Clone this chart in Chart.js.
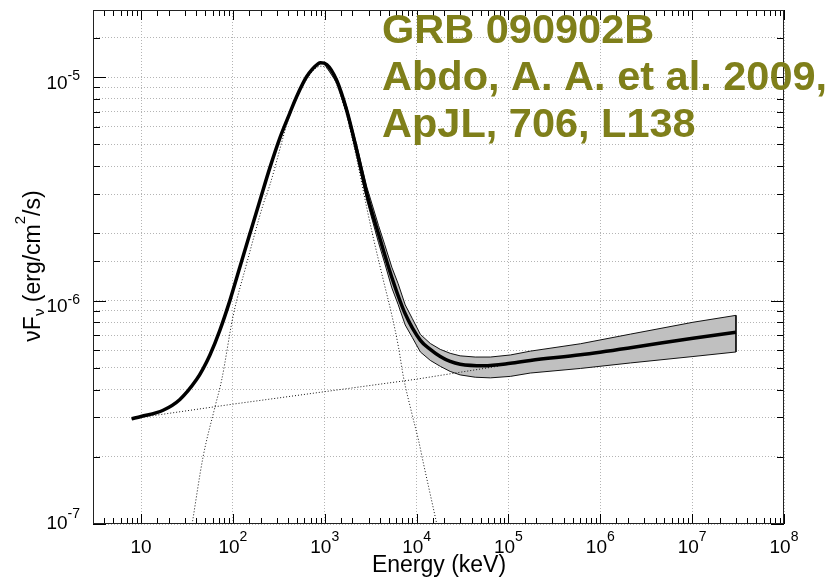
<!DOCTYPE html>
<html>
<head>
<meta charset="utf-8">
<script src="https://cdn.jsdelivr.net/npm/chart.js@4"></script>
<style>
html, body { margin: 0; padding: 0; background: #fff; }
#wrap { width: 838px; height: 578px; }
</style>
</head>
<body>
<div id="wrap"><canvas id="myChart" width="838" height="578"></canvas></div>
<script>
// energy in keV, flux in erg/cm2/s
const totalE = [7.9, 10, 17.4, 26.5, 40.2, 47.3, 56.1, 72.1, 92.7, 119, 153, 197, 253, 326, 419, 495, 637, 851, 900, 1052,
    1352, 1738, 2234, 2871, 3850, 5380, 7520, 1.1e4, 1.41e4, 1.81e4, 2.32e4, 2.98e4, 5.37e4, 1.05e5, 1.73e5, 6.08e5, 2.13e6, 1.02e7, 3.0e7];
const totalF = [2.96e-7, 3.03e-7, 3.23e-7, 3.61e-7, 4.43e-7, 4.95e-7, 5.69e-7, 7.36e-7, 1.0e-6, 1.41e-6, 1.99e-6, 2.81e-6, 3.94e-6, 5.37e-6, 6.95e-6, 8.2e-6, 1.007e-5, 1.15e-5, 1.16e-5, 1.14e-5,
    9.67e-6, 7.1e-6, 4.7e-6, 3.01e-6, 1.99e-6, 1.27e-6, 8.73e-7, 6.64e-7, 6.05e-7, 5.62e-7, 5.34e-7, 5.19e-7, 5.11e-7, 5.24e-7, 5.4e-7, 5.72e-7, 6.15e-7, 6.79e-7, 7.22e-7];

// confidence band
const bandE = [1000, 1352, 1738, 2234, 2871, 3850, 4500, 5380, 6300, 7520, 9000, 1.1e4, 1.41e4, 1.81e4, 2.32e4, 2.98e4, 4.35e4, 6.35e4, 1.05e5, 1.73e5, 6.08e5, 2.13e6, 1.02e7, 3.0e7];
const bandHi = [1.16e-5, 9.9e-6, 7.37e-6, 4.94e-6, 3.23e-6, 2.17e-6, 1.78e-6, 1.41e-6, 1.19e-6, 9.57e-7, 8.3e-7, 7.06e-7, 6.43e-7, 6.05e-7, 5.81e-7, 5.66e-7, 5.59e-7, 5.59e-7, 5.71e-7, 5.94e-7, 6.41e-7, 7.08e-7, 8.0e-7, 8.59e-7];
const bandLo = [1.14e-5, 9.45e-6, 6.84e-6, 4.47e-6, 2.81e-6, 1.82e-6, 1.47e-6, 1.14e-6, 9.6e-7, 7.78e-7, 6.83e-7, 5.89e-7, 5.4e-7, 5.08e-7, 4.82e-7, 4.65e-7, 4.54e-7, 4.51e-7, 4.58e-7, 4.74e-7, 4.97e-7, 5.26e-7, 5.62e-7, 5.89e-7];

// Band component (dotted)
const bandCompE = [36, 47.4, 63.7, 75.4, 101, 141, 214, 253, 419, 637, 900, 1052, 1352, 1738, 2234, 2871, 3390, 4355, 5380, 6353, 7194, 8890, 1.05e4, 1.19e4, 1.35e4, 1.66e4];
const bandCompF = [1.0e-7, 2.0e-7, 3.33e-7, 4.4e-7, 8.6e-7, 1.46e-6, 2.7e-6, 3.3e-6, 6.8e-6, 9.8e-6, 1.12e-5, 1.1e-5, 9.25e-6, 6.7e-6, 4.3e-6, 2.6e-6, 1.9e-6, 1.23e-6, 8.6e-7, 6.19e-7, 4.55e-7, 3.12e-7, 2.37e-7, 1.86e-7, 1.47e-7, 1.0e-7];

// power-law component (dotted)
const plE = [7.9, 100, 1e4, 7.8e4];
const plF = [2.96e-7, 3.44e-7, 4.45e-7, 5.09e-7];

const xDecades = [1, 2, 3, 4, 5, 6, 7, 8];
const yDecades = [-7, -6, -5];
const noteLines = ['GRB 090902B', 'Abdo, A. A. et al. 2009,', 'ApJL, 706, L138'];

const FONT = '"Liberation Sans", Arial, Helvetica, sans-serif';
const gridColor = '#b4b4b4';

function pts(xs, ys) {
    return xs.map((x, i) => ({x: x, y: ys[i]}));
}
function isDecade(v) {
    const l = Math.log10(v);
    return Math.abs(l - Math.round(l)) < 1e-6;
}

const shape = pts(bandE, bandHi).concat(pts(bandE, bandLo).reverse());
shape.push(shape[0]);

const decorations = {
    id: 'decorations',
    afterDraw(chart) {
        const ctx = chart.ctx;
        const a = chart.chartArea;
        const xs = chart.scales.x, ys = chart.scales.y;
        ctx.save();

        // inward ticks
        ctx.strokeStyle = '#000';
        ctx.lineWidth = 1;
        ctx.beginPath();
        xs.ticks.forEach(t => {
            const px = Math.round(xs.getPixelForValue(t.value)) + 0.5;
            const len = isDecade(t.value) ? 10 : 6;
            ctx.moveTo(px, a.bottom); ctx.lineTo(px, a.bottom - len);
            ctx.moveTo(px, a.top); ctx.lineTo(px, a.top + len);
        });
        ys.ticks.forEach(t => {
            const py = Math.round(ys.getPixelForValue(t.value)) + 0.5;
            const len = isDecade(t.value) ? 13 : 7;
            ctx.moveTo(a.left, py); ctx.lineTo(a.left + len, py);
            ctx.moveTo(a.right, py); ctx.lineTo(a.right - len, py);
        });
        ctx.stroke();

        // frame
        ctx.strokeStyle = '#222';
        ctx.strokeRect(a.left + 0.5, a.top + 0.5, a.right - a.left - 1, a.bottom - a.top - 1);

        ctx.fillStyle = '#000';
        ctx.textAlign = 'left';
        ctx.textBaseline = 'alphabetic';

        // x tick labels
        xDecades.forEach(n => {
            const px = xs.getPixelForValue(Math.pow(10, n));
            ctx.font = '19px ' + FONT;
            const wb = ctx.measureText('10').width;
            let we = 0;
            const ex = n > 1 ? String(n) : '';
            ctx.font = '14px ' + FONT;
            if (ex) we = ctx.measureText(ex).width;
            const x0 = px - (wb + we) / 2;
            ctx.font = '19px ' + FONT;
            ctx.fillText('10', x0, 553);
            if (ex) {
                ctx.font = '14px ' + FONT;
                ctx.fillText(ex, x0 + wb, 541);
            }
        });

        // y tick labels
        yDecades.forEach((n, i) => {
            const py = ys.getPixelForValue(Math.pow(10, n));
            const ex = '-' + String(-n);
            ctx.font = '14px ' + FONT;
            const we = ctx.measureText(ex).width;
            ctx.font = '19px ' + FONT;
            const wb = ctx.measureText('10').width;
            const right = 80;
            const baseY = i === 0 ? py + 4.5 : py + 11.5;
            const expY = i === 0 ? py - 6.5 : py + 3;
            ctx.fillText('10', right - we - wb, baseY);
            ctx.font = '14px ' + FONT;
            ctx.fillText(ex, right - we, expY);
        });

        // x title
        ctx.font = '23px ' + FONT;
        ctx.textAlign = 'center';
        ctx.fillText('Energy (keV)', 439, 572);

        // y title
        ctx.save();
        ctx.translate(40, 266);
        ctx.rotate(-Math.PI / 2);
        ctx.textAlign = 'left';
        const parts = [
            {t: '\u03bdF', s: 23, dy: 0},
            {t: '\u03bd', s: 15, dy: 4},
            {t: ' (erg/cm', s: 23, dy: 0},
            {t: '2', s: 15, dy: -15},
            {t: '/s)', s: 23, dy: 0}
        ];
        let total = 0;
        parts.forEach(p => { ctx.font = p.s + 'px ' + FONT; p.w = ctx.measureText(p.t).width; total += p.w; });
        let cx = -total / 2;
        parts.forEach(p => {
            ctx.font = p.s + 'px ' + FONT;
            ctx.fillText(p.t, cx, p.dy);
            cx += p.w;
        });
        ctx.restore();

        // annotation
        ctx.fillStyle = '#7f7f1a';
        ctx.textAlign = 'left';
        ctx.font = 'bold 41.5px ' + FONT;
        const baselines = [43, 90, 137];
        noteLines.forEach((s, i) => ctx.fillText(s, 382, baselines[i]));

        ctx.restore();
    }
};

const ctx = document.getElementById('myChart').getContext('2d');
const myChart = new Chart(ctx, {
    type: 'scatter',
    data: {
        datasets: [
            {
                label: 'Total',
                data: pts(totalE, totalF),
                showLine: true,
                borderColor: '#000',
                borderWidth: 3.5,
                pointRadius: 0,
                cubicInterpolationMode: 'monotone',
                order: 0
            },
            {
                label: 'Band',
                data: pts(bandCompE, bandCompF),
                showLine: true,
                borderColor: '#111',
                borderWidth: 1,
                borderDash: [1, 2],
                pointRadius: 0,
                cubicInterpolationMode: 'monotone',
                order: 1
            },
            {
                label: 'Power law',
                data: pts(plE, plF),
                showLine: true,
                borderColor: '#111',
                borderWidth: 1,
                borderDash: [1, 2],
                pointRadius: 0,
                order: 2
            },
            {
                label: 'Band region',
                data: shape,
                showLine: true,
                borderColor: '#111',
                borderWidth: 1,
                backgroundColor: '#c0c0c0',
                fill: 'shape',
                pointRadius: 0,
                tension: 0,
                order: 3
            }
        ]
    },
    options: {
        responsive: false,
        animation: false,
        events: [],
        layout: { padding: { left: 93, right: 54, top: 10, bottom: 54 } },
        plugins: {
            legend: { display: false },
            tooltip: { enabled: false }
        },
        scales: {
            x: {
                type: 'logarithmic',
                min: 3,
                max: 1e8,
                ticks: { display: false },
                grid: {
                    color: c => (c.tick && isDecade(c.tick.value)) ? gridColor : 'rgba(0,0,0,0)',
                    lineWidth: 1,
                    drawTicks: false,
                    tickLength: 0
                },
                border: { display: false, dash: [1, 2] }
            },
            y: {
                type: 'logarithmic',
                min: 1e-7,
                max: 2e-5,
                ticks: { display: false },
                grid: {
                    color: gridColor,
                    lineWidth: 1,
                    drawTicks: false,
                    tickLength: 0
                },
                border: { display: false, dash: [1, 2] }
            }
        }
    },
    plugins: [decorations]
});
</script>
</body>
</html>
